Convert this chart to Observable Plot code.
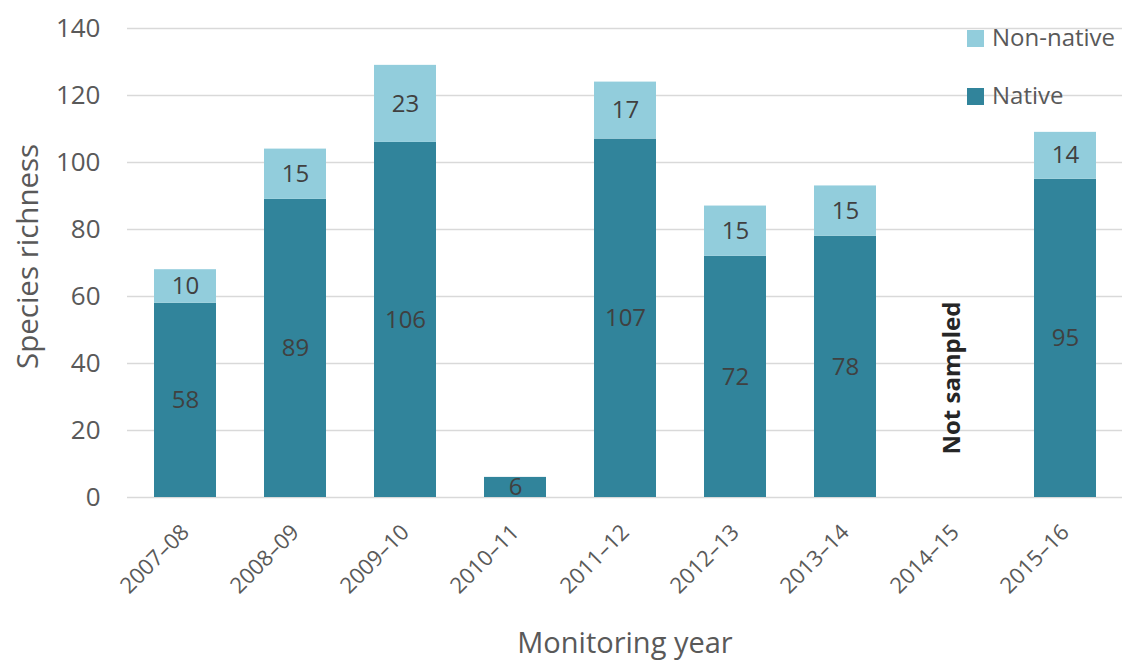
<!DOCTYPE html>
<html>
<head>
<meta charset="utf-8">
<script src="https://cdn.jsdelivr.net/npm/d3@7"></script>
<script src="https://cdn.jsdelivr.net/npm/@observablehq/plot@0.6"></script>
<style>
  html, body { margin: 0; padding: 0; background: #fff; }
  #chart { position: relative; width: 1127px; height: 665px; font-family: "Open Sans", sans-serif; }
  .legend { position: absolute; left: 967px; top: 21px; color: #595959; font-size: 24px; line-height: 1; }
  .legend-item { display: flex; align-items: center; height: 32px; margin-bottom: 26px; }
  .swatch { width: 17px; height: 17px; margin-right: 8px; margin-top: 3px; }
</style>
</head>
<body>
<div id="chart"></div>
<script>
// Monitoring years and species counts per year
const years = ["2007–08", "2008–09", "2009–10", "2010–11", "2011–12", "2012–13", "2013–14", "2014–15", "2015–16"];
const nativeCounts = [58, 89, 106, 6, 107, 72, 78, null, 95];
const nonNativeCounts = [10, 15, 23, 0, 17, 15, 15, null, 14];
const yTicks = [0, 20, 40, 60, 80, 100, 120, 140];
const seriesNames = ["Native", "Non-native"];
const seriesColors = ["#31849b", "#92cddc"];
const notSampledYear = "2014–15";

// Long-format table: native rows first so they stack at the bottom
const rows = [
  ...years.map((year, i) => ({year, type: "Native", value: nativeCounts[i]})),
  ...years.map((year, i) => ({year, type: "Non-native", value: nonNativeCounts[i]}))
].filter(d => d.value != null && d.value > 0);

const font = "'Open Sans', sans-serif";

const plot = Plot.plot({
  width: 1127,
  height: 665,
  marginTop: 28,
  marginRight: 5,
  marginBottom: 168,
  marginLeft: 127,
  style: {fontFamily: font, background: "#fff", color: "#595959"},
  x: {domain: years, padding: 0.44, paddingOuter: 0.22, align: 0.5},
  y: {domain: [0, 140]},
  color: {domain: seriesNames, range: seriesColors},
  marks: [
    Plot.gridY(yTicks, {stroke: "#d9d9d9", strokeOpacity: 1, strokeWidth: 1.5}),
    Plot.barY(rows, {x: "year", y: "value", fill: "type", z: "type"}),
    Plot.text(rows, Plot.stackY({
      x: "year", y: "value", z: "type", text: d => String(d.value),
      fill: "#404040", fontSize: 24
    })),
    Plot.text([notSampledYear], {
      x: d => d, text: () => "Not sampled", frameAnchor: "bottom",
      rotate: -90, textAnchor: "start", dx: 4, dy: -43, fontSize: 24,
      fontWeight: "bold", fill: "#262626"
    }),
    Plot.axisY(yTicks, {tickSize: 0, tickPadding: 27, fontSize: 26, label: null, fill: "#595959"}),
    Plot.axisX({tickSize: 0, tickRotate: -45, tickPadding: 31, fontSize: 22, label: null, fill: "#595959"}),
    Plot.text(["Species richness"], {
      frameAnchor: "left", rotate: -90, dx: -99, dy: 106, fontSize: 29.5, fill: "#595959"
    }),
    Plot.text(["Monitoring year"], {
      frameAnchor: "bottom", dy: 155, fontSize: 29, fill: "#595959"
    })
  ]
});

const chart = document.getElementById("chart");
chart.appendChild(plot);

// Legend overlay in the top-right corner of the plot area
const legend = document.createElement("div");
legend.className = "legend";
[...seriesNames].reverse().forEach(name => {
  const item = document.createElement("div");
  item.className = "legend-item";
  const sw = document.createElement("span");
  sw.className = "swatch";
  sw.style.background = seriesColors[seriesNames.indexOf(name)];
  const label = document.createElement("span");
  label.textContent = name;
  item.appendChild(sw);
  item.appendChild(label);
  legend.appendChild(item);
});
chart.appendChild(legend);
</script>
</body>
</html>
